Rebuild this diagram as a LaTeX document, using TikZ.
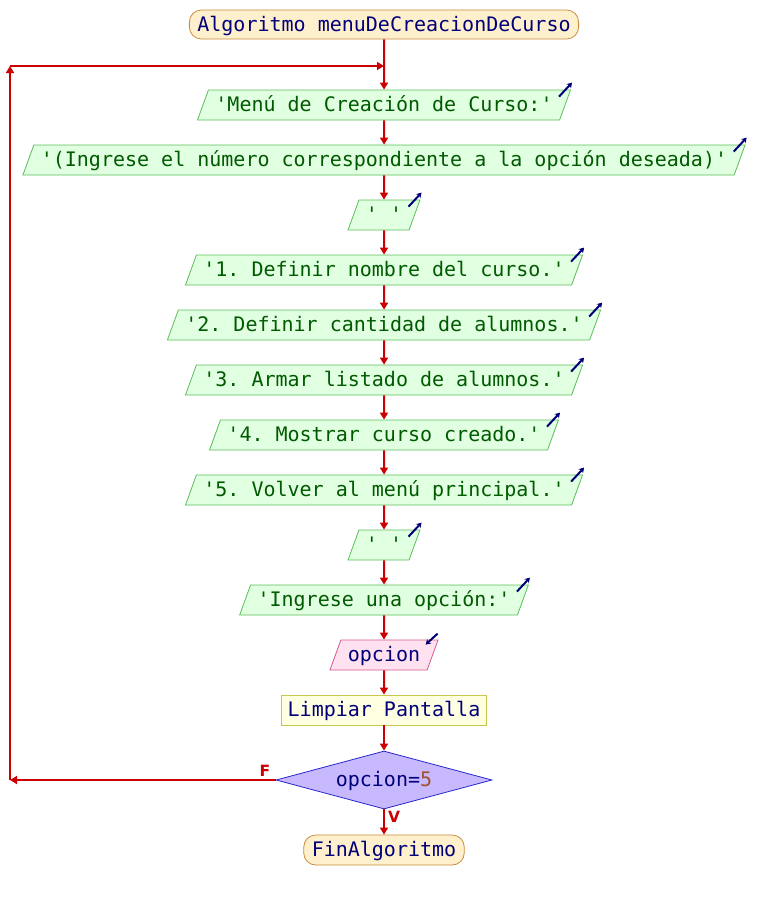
\documentclass[tikz,border=0pt]{standalone}
\usepackage{fontspec}
\setmonofont{DejaVu Sans Mono}
\newfontfamily\lblfont{DejaVu Sans}
\usetikzlibrary{shapes.geometric,arrows.meta}
\definecolor{flowred}{RGB}{204,0,0}
\definecolor{navytext}{RGB}{0,0,120}
\definecolor{greentext}{RGB}{0,90,0}
\definecolor{termfill}{RGB}{255,240,205}
\definecolor{termdraw}{RGB}{200,140,60}
\definecolor{parafill}{RGB}{225,255,225}
\definecolor{paradraw}{RGB}{90,190,90}
\definecolor{infill}{RGB}{255,225,240}
\definecolor{indraw}{RGB}{210,90,140}
\definecolor{procfill}{RGB}{255,255,225}
\definecolor{procdraw}{RGB}{200,200,80}
\definecolor{decfill}{RGB}{200,185,255}
\definecolor{decdraw}{RGB}{40,40,200}
\definecolor{numcol}{RGB}{160,82,45}
\tikzset{
  base/.style={font=\ttfamily\fontsize{20}{24}\selectfont, text height=16pt, text depth=3pt},
  term/.style={base, draw=termdraw, fill=termfill, rounded corners=12pt, inner xsep=8pt, inner ysep=5pt, text=navytext, line width=0.8pt},
  para/.style={base, trapezium, trapezium left angle=70, trapezium right angle=110,
     draw=paradraw, fill=parafill, inner xsep=7pt, inner ysep=5.5pt, minimum height=30pt, text=greentext, line width=0.8pt},
  inpara/.style={para, draw=indraw, fill=infill, text=navytext},
  proc/.style={base, draw=procdraw, fill=procfill, inner xsep=6pt, inner ysep=5.5pt, text=navytext, line width=0.8pt},
  dec/.style={base, diamond, aspect=3.6, inner sep=0pt, minimum width=216pt, minimum height=58pt, draw=decdraw, fill=decfill, text=navytext, line width=0.8pt},
  flow/.style={draw=flowred, line width=2pt, -{Triangle[length=7pt,width=8pt]}},
  outarr/.style={draw=navytext, line width=2pt, -{Stealth[length=5pt,width=6pt]}},
  lbl/.style={font=\lblfont\bfseries\fontsize{15.5}{18}\selectfont, text=flowred, inner sep=0pt}
}
\begin{document}
\begin{tikzpicture}[x=1pt,y=-1pt]
\useasboundingbox (0,0) rectangle (768,900);
\node[term] (start) at (384,24.5) {Algoritmo menuDeCreacionDeCurso};
\node[para] (p1) at (384,105) {'Menú de Creación de Curso:'};
\node[para] (p2) at (384,160) {'(Ingrese el número correspondiente a la opción deseada)'};
\node[para] (p3) at (384,215) {' '};
\node[para] (p4) at (384,270) {'1. Definir nombre del curso.'};
\node[para] (p5) at (384,325) {'2. Definir cantidad de alumnos.'};
\node[para] (p6) at (384,380) {'3. Armar listado de alumnos.'};
\node[para] (p7) at (384,435) {'4. Mostrar curso creado.'};
\node[para] (p8) at (384,490) {'5. Volver al menú principal.'};
\node[para] (p9) at (384,545) {' '};
\node[para] (p10) at (384,600) {'Ingrese una opción:'};
\node[inpara] (inp) at (384,655) {opcion};
\node[proc] (limp) at (384,710) {Limpiar Pantalla};
\node[dec] (dec) at (384,780) {opcion={\color{numcol}5}};
\node[term, inner ysep=5.5pt] (fin) at (384,850) {FinAlgoritmo};

\foreach \n in {p1,p2,p3,p4,p5,p6,p7,p8,p9,p10}{
  \draw[outarr] ([shift={(-12,7)}]\n.top right corner) -- ([shift={(1,-7)}]\n.top right corner);
}
\draw[outarr] ([shift={(-1,-6)}]inp.top right corner) -- ([shift={(-13,5)}]inp.top right corner);

\coordinate (merge) at (384,66);
\coordinate (lt) at (10,66);
\coordinate (lb) at (10,780);

\draw[flow] (start.south) -- (p1.north);
\draw[flow] (p1.south) -- (p2.north);
\draw[flow] (p2.south) -- (p3.north);
\draw[flow] (p3.south) -- (p4.north);
\draw[flow] (p4.south) -- (p5.north);
\draw[flow] (p5.south) -- (p6.north);
\draw[flow] (p6.south) -- (p7.north);
\draw[flow] (p7.south) -- (p8.north);
\draw[flow] (p8.south) -- (p9.north);
\draw[flow] (p9.south) -- (p10.north);
\draw[flow] (p10.south) -- (inp.north);
\draw[flow] (inp.south) -- (limp.north);
\draw[flow] (limp.south) -- (dec.north);
\draw[flow] (dec.south) -- (fin.north);
\draw[flow] (dec.west) -- (lb);
\draw[flow] (lb) -- (lt);
\draw[flow] (lt) -- (merge);

\node[lbl] (flab) at (265,770.5) {F};
\node[lbl] (vlab) at (394,817) {V};
\end{tikzpicture}
\end{document}
